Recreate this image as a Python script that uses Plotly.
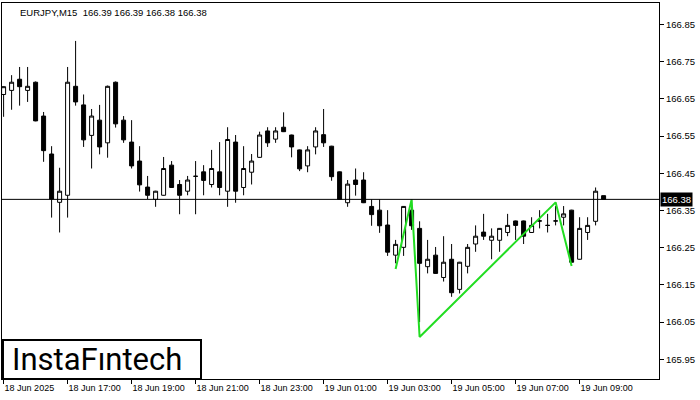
import plotly.graph_objects as go

# ---- data (EURJPY M15, 18 Jun 2025 15:00 -> 19 Jun 2025 09:45) ----
opens = [166.662, 166.673, 166.703, 166.673, 166.695, 166.604, 166.502, 166.372, 166.391, 166.684,
         166.634, 166.552, 166.593, 166.532, 166.695, 166.593, 166.534, 166.483, 166.413, 166.380,
         166.391, 166.472, 166.420, 166.402, 166.442, 166.454, 166.420, 166.454, 166.402, 166.534,
         166.412, 166.453, 166.493, 166.564, 166.542, 166.574, 166.553, 166.513, 166.470, 166.521,
         166.554, 166.523, 166.454, 166.371, 166.432, 166.432, 166.361, 166.351, 166.311, 166.230,
         166.251, 166.351, 166.302, 166.199, 166.230, 166.170, 166.219, 166.138, 166.200, 166.260,
         166.292, 166.270, 166.270, 166.291, 166.322, 166.322, 166.291, 166.322, 166.310, 166.322,
         166.332, 166.351, 166.219, 166.291, 166.321, 166.390]
highs = [166.684, 166.714, 166.736, 166.736, 166.697, 166.615, 166.523, 166.465, 166.736, 166.806,
         166.662, 166.623, 166.634, 166.686, 166.697, 166.604, 166.593, 166.523, 166.443, 166.403,
         166.494, 166.483, 166.432, 166.443, 166.483, 166.472, 166.513, 166.534, 166.574, 166.553,
         166.523, 166.502, 166.562, 166.574, 166.574, 166.614, 166.554, 166.514, 166.523, 166.574,
         166.623, 166.524, 166.455, 166.432, 166.463, 166.453, 166.380, 166.380, 166.351, 166.271,
         166.362, 166.378, 166.321, 166.271, 166.252, 166.281, 166.260, 166.212, 166.260, 166.310,
         166.341, 166.302, 166.303, 166.341, 166.323, 166.323, 166.332, 166.351, 166.341, 166.362,
         166.362, 166.352, 166.332, 166.332, 166.412, 166.390]
lows = [166.602, 166.621, 166.632, 166.642, 166.590, 166.481, 166.331, 166.291, 166.331, 166.632,
        166.521, 166.463, 166.501, 166.492, 166.573, 166.532, 166.463, 166.401, 166.381, 166.360,
        166.390, 166.411, 166.340, 166.391, 166.340, 166.391, 166.412, 166.391, 166.360, 166.371,
        166.391, 166.420, 166.492, 166.521, 166.532, 166.561, 166.493, 166.456, 166.453, 166.501,
        166.521, 166.430, 166.379, 166.360, 166.390, 166.370, 166.309, 166.290, 166.228, 166.208,
        166.228, 166.298, 166.050, 166.181, 166.180, 166.159, 166.118, 166.127, 166.181, 166.239,
        166.271, 166.219, 166.239, 166.281, 166.271, 166.260, 166.290, 166.302, 166.291, 166.310,
        166.310, 166.210, 166.218, 166.271, 166.310, 166.380]
closes = [166.683, 166.695, 166.683, 166.684, 166.591, 166.511, 166.381, 166.402, 166.695, 166.642,
          166.540, 166.604, 166.521, 166.684, 166.583, 166.540, 166.470, 166.419, 166.391, 166.402,
          166.463, 166.412, 166.391, 166.432, 166.442, 166.431, 166.463, 166.412, 166.541, 166.402,
          166.463, 166.483, 166.553, 166.532, 166.564, 166.562, 166.521, 166.462, 166.513, 166.564,
          166.532, 166.441, 166.380, 166.421, 166.420, 166.371, 166.339, 166.309, 166.238, 166.259,
          166.361, 166.309, 166.208, 166.219, 166.181, 166.211, 166.129, 166.211, 166.251, 166.281,
          166.281, 166.281, 166.302, 166.310, 166.310, 166.281, 166.310, 166.322, 166.310, 166.322,
          166.341, 166.211, 166.302, 166.310, 166.402, 166.380]

x_tick_bars = [0, 8, 16, 24, 32, 40, 48, 56, 64, 72]
x_tick_labels = ["18 Jun 2025", "18 Jun 17:00", "18 Jun 19:00", "18 Jun 21:00", "18 Jun 23:00",
                 "19 Jun 01:00", "19 Jun 03:00", "19 Jun 05:00", "19 Jun 07:00", "19 Jun 09:00"]
y_tick_values = [165.95, 166.05, 166.15, 166.25, 166.35, 166.45, 166.55, 166.65, 166.75, 166.85]

# pattern outline
pattern_bars = [49, 51, 52, 69, 71]
pattern_prices = [166.193, 166.380, 166.010, 166.372, 166.201]

current_price = 166.38
title_text = "EURJPY,M15  166.39 166.39 166.38 166.38"
logo_text = "InstaFıntech"

bars = list(range(len(opens)))
FONT = "Liberation Sans, Arial, sans-serif"

fig = go.Figure()
fig.add_trace(go.Candlestick(
    x=bars, open=opens, high=highs, low=lows, close=closes,
    increasing=dict(line=dict(color="black", width=1), fillcolor="white"),
    decreasing=dict(line=dict(color="black", width=1), fillcolor="black"),
    whiskerwidth=0, showlegend=False, hoverinfo="skip",
))
fig.add_trace(go.Scatter(
    x=pattern_bars, y=pattern_prices, mode="lines",
    line=dict(color="#22dd22", width=2), showlegend=False, hoverinfo="skip",
))

# current price line
fig.add_shape(type="line", xref="paper", x0=0, x1=1, yref="y", y0=current_price, y1=current_price,
              line=dict(color="black", width=1))
fig.add_annotation(xref="paper", x=1.0, yref="y", y=current_price, text=f"{current_price:.2f}",
                   showarrow=False, xanchor="left", yanchor="middle", bgcolor="black",
                   font=dict(family=FONT, size=9.5, color="white"), borderpad=1, xshift=1)

# title
fig.add_annotation(xref="paper", yref="paper", x=0.0244, y=0.995, text=title_text, showarrow=False,
                   xanchor="left", yanchor="top", font=dict(family=FONT, size=9.5, color="black"))

# logo box
fig.add_shape(type="rect", xref="paper", yref="paper", x0=0.0015, x1=0.3029, y0=0.0, y1=0.1037,
              line=dict(color="black", width=2), fillcolor="white", layer="above")
fig.add_annotation(xref="paper", yref="paper", x=0.1445, y=0.052, text=logo_text, showarrow=False,
                   xanchor="center", yanchor="middle",
                   font=dict(family="Roboto, sans-serif", size=31, color="black"))

fig.update_layout(
    width=700, height=400,
    margin=dict(l=2, r=41, t=3, b=21, autoexpand=False),
    paper_bgcolor="white", plot_bgcolor="white",
    boxgap=0.5, boxgroupgap=0,
    showlegend=False, hovermode=False,
    font=dict(family=FONT, size=9.5, color="black"),
)
fig.update_xaxes(
    range=[-0.2, 81.925], rangeslider=dict(visible=False), automargin=False,
    tickmode="array", tickvals=x_tick_bars, ticktext=x_tick_labels, tickangle=0,
    ticks="outside", ticklen=4, tickcolor="black", ticklabelposition="outside right",
    showgrid=False, zeroline=False, showline=True, linecolor="black", linewidth=1, mirror=True,
    tickfont=dict(family=FONT, size=9, color="black"),
)
fig.update_yaxes(
    range=[165.897, 166.908], side="right", automargin=False,
    tickmode="array", tickvals=y_tick_values, ticktext=[f"{v:.2f}" for v in y_tick_values],
    ticks="outside", ticklen=4, tickcolor="black",
    showgrid=False, zeroline=False, showline=True, linecolor="black", linewidth=1, mirror=True,
    tickfont=dict(family=FONT, size=9.5, color="black"),
)

fig.write_html("out.html", config={"displayModeBar": False},
               post_script="document.body.style.margin='0';document.body.style.padding='0';")
